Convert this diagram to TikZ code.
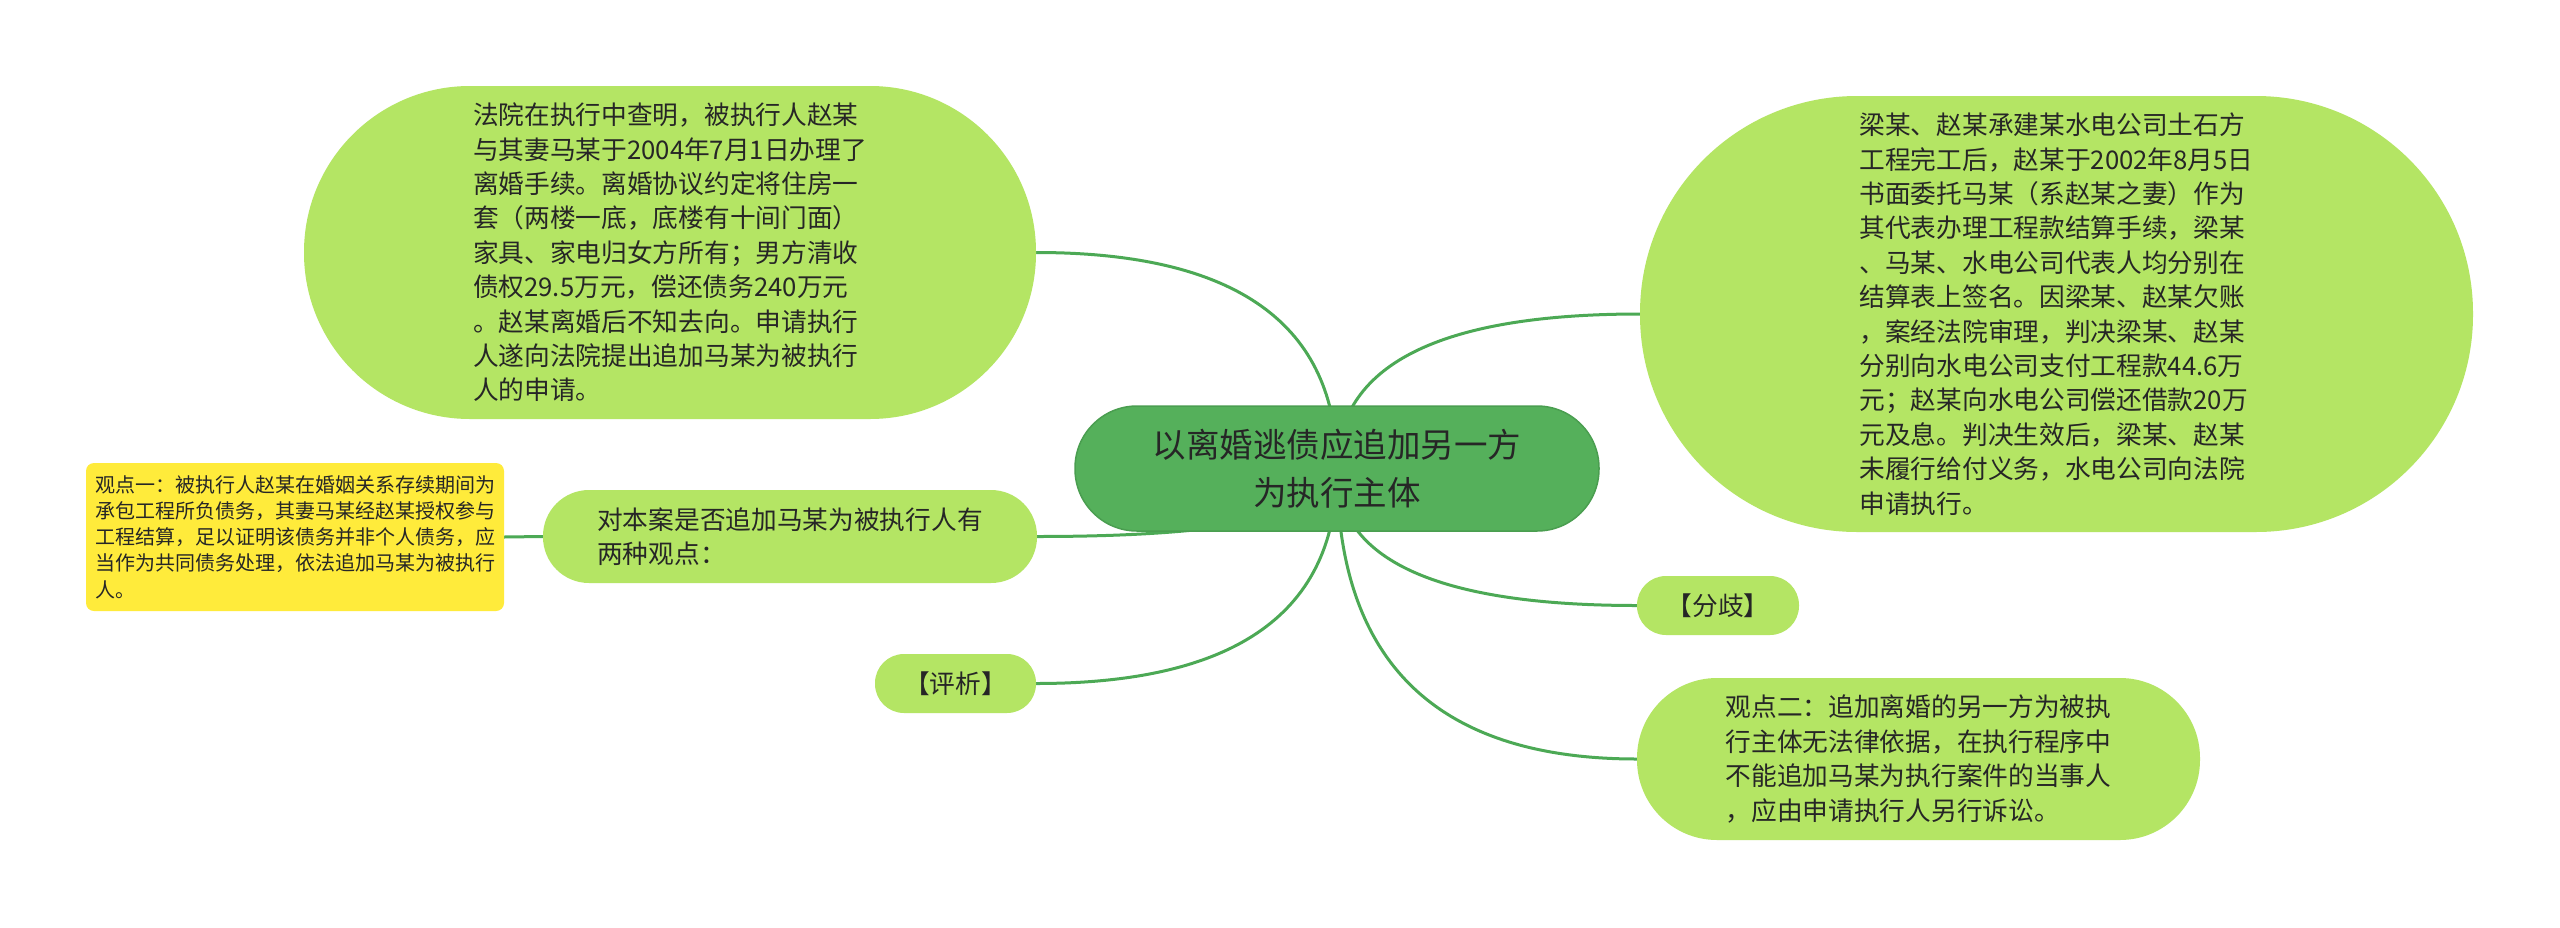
\documentclass[tikz,border=0pt]{standalone}
\usepackage{fontspec}
\newfontfamily\cjk{Noto Sans CJK SC}
\usetikzlibrary{calc,backgrounds}
\definecolor{lightg}{HTML}{B4E564}
\definecolor{centerg}{HTML}{55B05B}
\definecolor{centerb}{HTML}{4A9E50}
\definecolor{lineg}{HTML}{4CA955}
\definecolor{yel}{HTML}{FFEB3B}
\definecolor{txt}{HTML}{262626}
\newcommand\mmconn[2]{\draw[conn] (#1.center) .. controls ($(#1.center)!0.667!(#1.center |- #2)$) and ($(#2)!0.667!(#1.center |- #2)$) .. (#2);}
\begin{document}
\begin{tikzpicture}[x=1pt,y=-1pt,
  base/.style={inner sep=0pt, align=left, text=txt},
  big/.style={base, font=\cjk\fontsize{25.7}{34.4}\selectfont},
  bubble/.style={big, fill=lightg},
  conn/.style={draw=lineg, line width=3pt}]
\useasboundingbox (0,0) rectangle (2560,927);

\node[base, fill=centerg, draw=centerb, line width=1.5pt, align=center,
  font=\cjk\fontsize{33.5}{48}\selectfont,
  minimum width=524, minimum height=125, rounded corners=62] (C) at (1337,468.5)
  {以离婚逃债应追加另一方\\为执行主体};

\node[bubble, minimum width=732, minimum height=333, rounded corners=166] (TL) at (670,252.5)
  {法院在执行中查明，被执行人赵某\\与其妻马某于2004年7月1日办理了\\离婚手续。离婚协议约定将住房一\\套（两楼一底，底楼有十间门面）\\家具、家电归女方所有；男方清收\\债权29.5万元，偿还债务240万元\\。赵某离婚后不知去向。申请执行\\人遂向法院提出追加马某为被执行\\人的申请。};

\node[bubble, minimum width=833, minimum height=436, rounded corners=217] (TR) at (2056.5,314)
  {梁某、赵某承建某水电公司土石方\\工程完工后，赵某于2002年8月5日\\书面委托马某（系赵某之妻）作为\\其代表办理工程款结算手续，梁某\\、马某、水电公司代表人均分别在\\结算表上签名。因梁某、赵某欠账\\，案经法院审理，判决梁某、赵某\\分别向水电公司支付工程款44.6万\\元；赵某向水电公司偿还借款20万\\元及息。判决生效后，梁某、赵某\\未履行给付义务，水电公司向法院\\申请执行。};

\node[bubble, minimum width=494, minimum height=93, rounded corners=46] (Q) at (790,536.5)
  {对本案是否追加马某为被执行人有\\两种观点：};

\node[base, fill=yel, font=\cjk\fontsize{20}{26.2}\selectfont,
  minimum width=418, minimum height=148, rounded corners=8] (Y) at (295,537)
  {观点一：被执行人赵某在婚姻关系存续期间为\\承包工程所负债务，其妻马某经赵某授权参与\\工程结算，足以证明该债务并非个人债务，应\\当作为共同债务处理，依法追加马某为被执行\\人。};

\node[bubble, minimum width=161, minimum height=59, rounded corners=29] (PX) at (955.5,683.5) {【评析】};

\node[bubble, minimum width=162, minimum height=59, rounded corners=29] (FQ) at (1718,605.5) {【分歧】};

\node[bubble, minimum width=563, minimum height=162, rounded corners=80] (V2) at (1918.5,759)
  {观点二：追加离婚的另一方为被执\\行主体无法律依据，在执行程序中\\不能追加马某为执行案件的当事人\\，应由申请执行人另行诉讼。};

\begin{scope}[on background layer]
  \fill[white] (0,0) rectangle (2560,927);
  \mmconn{C}{TL.east}
  \mmconn{C}{TR.west}
  \mmconn{C}{Q.east}
  \mmconn{C}{PX.east}
  \mmconn{C}{FQ.west}
  \mmconn{C}{V2.west}
  \draw[conn] (Y.east) -- (Q.west);
\end{scope}
\end{tikzpicture}
\end{document}
